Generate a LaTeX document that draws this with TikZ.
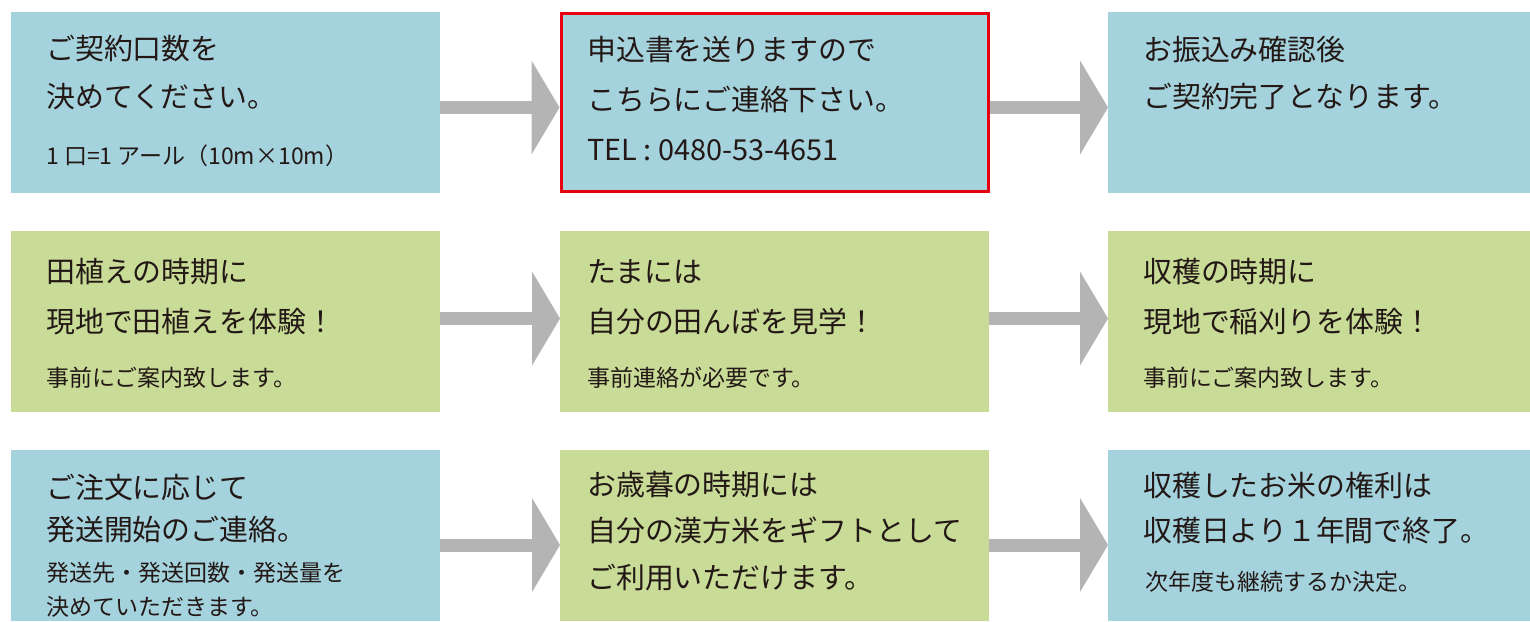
\documentclass[tikz,border=0pt]{standalone}
\usepackage{fontspec}
\setmainfont{Noto Sans CJK JP}
\usetikzlibrary{arrows.meta}
\definecolor{boxblue}{HTML}{A4D3DE}
\definecolor{boxgreen}{HTML}{C8DB97}
\definecolor{arrowgray}{HTML}{B4B4B4}
\definecolor{framered}{HTML}{E60012}
\definecolor{ink}{HTML}{231815}
\begin{document}
\begin{tikzpicture}[x=1pt,y=-1pt,
  panel/.style={rectangle, inner sep=0pt, outer sep=0pt, anchor=north west, draw=none},
  bluepanel/.style={panel, fill=boxblue},
  greenpanel/.style={panel, fill=boxgreen},
  redframe/.style={panel, fill=boxblue, draw=framered, line width=3pt},
  big/.style={anchor=west, inner sep=0pt, text=ink, font=\fontsize{28.9}{34}\selectfont},
  small/.style={anchor=west, inner sep=0pt, text=ink, font=\fontsize{23}{27}\selectfont},
  flow/.style={draw=arrowgray, line width=13pt, -{Triangle[length=28pt, width=94pt, line width=0pt]}}
]
\useasboundingbox[fill=white] (0,0) rectangle (1530,621);

% row 1
\node[bluepanel, minimum width=429pt, minimum height=181pt] (b11) at (11,12) {};
\node[redframe, minimum width=427pt, minimum height=178pt] (b12) at (561,13.5) {};
\node[bluepanel, minimum width=422pt, minimum height=181pt] (b13) at (1108,12) {};
% row 2
\node[greenpanel, minimum width=429pt, minimum height=181pt] (b21) at (11,231) {};
\node[greenpanel, minimum width=429pt, minimum height=181pt] (b22) at (560,231) {};
\node[greenpanel, minimum width=422pt, minimum height=181pt] (b23) at (1108,231) {};
% row 3
\node[bluepanel, minimum width=429pt, minimum height=171pt] (b31) at (11,450) {};
\node[greenpanel, minimum width=429pt, minimum height=171pt] (b32) at (560,450) {};
\node[bluepanel, minimum width=422pt, minimum height=171pt] (b33) at (1108,450) {};

% arrows
\draw[flow] ([yshift=-5pt]b11.east) -- ([yshift=-5pt,xshift=-1.5pt]b12.west);
\draw[flow] ([yshift=-5pt,xshift=1.5pt]b12.east) -- ([yshift=-5pt]b13.west);
\draw[flow] ([yshift=3pt]b21.east) -- ([yshift=3pt]b22.west);
\draw[flow] ([yshift=3pt]b22.east) -- ([yshift=3pt]b23.west);
\draw[flow] ([yshift=-9.5pt]b31.east) -- ([yshift=-9.5pt]b32.west);
\draw[flow] ([yshift=-9.5pt]b32.east) -- ([yshift=-9.5pt]b33.west);

% texts row 1
\node[big] (t11a) at (46,49) {ご契約口数を};
\node[big] (t11b) at (46,97) {決めてください。};
\node[small] (t11c) at (46,156) {1 口=1 アール（10m×10m）};
\node[big] (t12a) at (587,50) {申込書を送りますので};
\node[big] (t12b) at (587,100) {こちらにご連絡下さい。};
\node[big] (t12c) at (587,150) {TEL : 0480-53-4651};
\node[big] (t13a) at (1143,50) {お振込み確認後};
\node[big] (t13b) at (1143,97) {ご契約完了となります。};

% texts row 2
\node[big] (t21a) at (46,272) {田植えの時期に};
\node[big] (t21b) at (46,322) {現地で田植えを体験！};
\node[small] (t21c) at (46,378) {事前にご案内致します。};
\node[big] (t22a) at (587,272) {たまには};
\node[big] (t22b) at (587,322) {自分の田んぼを見学！};
\node[small] (t22c) at (587,378) {事前連絡が必要です。};
\node[big] (t23a) at (1143,272) {収穫の時期に};
\node[big] (t23b) at (1143,322) {現地で稲刈りを体験！};
\node[small] (t23c) at (1143,378) {事前にご案内致します。};

% texts row 3
\node[big] (t31a) at (46,487) {ご注文に応じて};
\node[big] (t31b) at (46,530) {発送開始のご連絡。};
\node[small] (t31c) at (46,573) {発送先・発送回数・発送量を};
\node[small] (t31d) at (46,607) {決めていただきます。};
\node[big] (t32a) at (587,485) {お歳暮の時期には};
\node[big] (t32b) at (587,530) {自分の漢方米をギフトとして};
\node[big] (t32c) at (587,578) {ご利用いただけます。};
\node[big] (t33a) at (1143,485) {収穫したお米の権利は};
\node[big] (t33b) at (1143,531) {収穫日より１年間で終了。};
\node[small] (t33c) at (1145,582) {次年度も継続するか決定。};
\end{tikzpicture}
\end{document}
